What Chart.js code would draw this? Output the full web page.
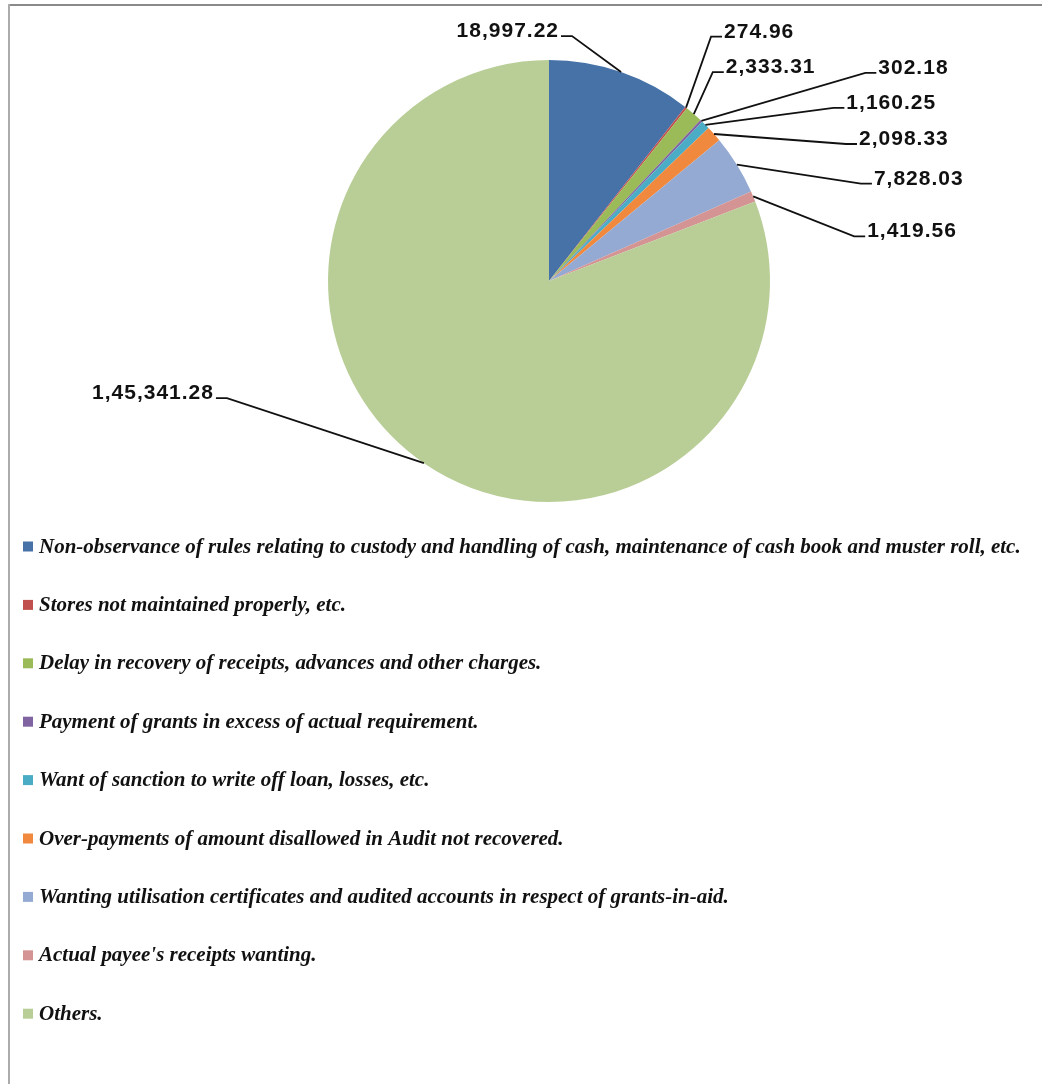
<!DOCTYPE html>
<html><head><meta charset="utf-8">
<script src="https://cdn.jsdelivr.net/npm/chart.js@4.4.0/dist/chart.umd.min.js"></script>
<style>
html,body{margin:0;padding:0;background:#fff;}
#wrap{position:relative;width:1042px;height:1084px;overflow:hidden;}
canvas{position:absolute;left:0;top:0;}
#frameTop{position:absolute;left:8px;top:4px;right:0;height:2px;background:#8a8a8a;}
#frameLeft{position:absolute;left:8px;top:4px;bottom:0;width:2px;background:#ababab;}
</style></head><body>
<div id="wrap"><canvas id="c" width="1042" height="1084"></canvas><div id="frameTop"></div><div id="frameLeft"></div></div>
<script>
const categories = [
  "Non-observance of rules relating to custody and handling of cash, maintenance of cash book and muster roll, etc.",
  "Stores not maintained properly, etc.",
  "Delay in recovery of receipts, advances and other charges.",
  "Payment of grants in excess of actual requirement.",
  "Want of sanction to write off loan, losses, etc.",
  "Over-payments of amount disallowed in Audit not recovered.",
  "Wanting utilisation certificates and audited accounts in respect of grants-in-aid.",
  "Actual payee's receipts wanting.",
  "Others."
];
const amounts = [18997.22, 274.96, 2333.31, 302.18, 1160.25, 2098.33, 7828.03, 1419.56, 145341.28];
const sliceColors = ['#4672A8','#C0504D','#9BBB59','#8064A2','#4BACC6','#F0893E','#95AAD3','#D49493','#B9CE97'];
// leader elbow offsets (px) from each slice's outer-arc midpoint; sign of dx gives label side
const labelElbowOffsets = [[-49,-36],[25,-71],[19,-42],[164,-48],[128,-17],[132,10],[124,19],[101,40],[-197,-65]];

function fmtIN(v){
  const parts = v.toFixed(2).split('.');
  const i = parts[0];
  let last3 = i.slice(-3), rest = i.slice(0,-3);
  if (rest) rest = rest.replace(/\B(?=(\d{2})+(?!\d))/g, ',') + ',';
  return rest + last3 + '.' + parts[1];
}

const leaderLabels = {
  id:'leaderLabels',
  afterDatasetsDraw(chart){
    const ctx = chart.ctx;
    const meta = chart.getDatasetMeta(0);
    ctx.save();
    ctx.strokeStyle = '#111';
    ctx.lineWidth = 1.8;
    ctx.fillStyle = '#111';
    ctx.font = 'bold 21px "Liberation Sans", Arial, sans-serif';
    try { ctx.letterSpacing = '1px'; } catch(e) {}
    ctx.textBaseline = 'alphabetic';
    meta.data.forEach((arc, i) => {
      const p = arc.getProps(['x','y','startAngle','endAngle','outerRadius'], true);
      const mid = (p.startAngle + p.endAngle) / 2;
      const ax = p.x + Math.cos(mid) * p.outerRadius;
      const ay = p.y + Math.sin(mid) * p.outerRadius;
      const [dx, dy] = labelElbowOffsets[i];
      const ex = ax + dx, ey = ay + dy;
      const right = dx >= 0;
      const sx = right ? ex + 11 : ex - 11;
      ctx.beginPath();
      ctx.moveTo(ax, ay);
      ctx.lineTo(ex, ey);
      ctx.lineTo(sx, ey);
      ctx.stroke();
      const txt = fmtIN(amounts[i]);
      ctx.textAlign = right ? 'left' : 'right';
      ctx.fillText(txt, right ? sx + 2 : sx - 2, ey + 1);
    });
    ctx.restore();
  }
};

const rowLegend = {
  id:'rowLegend',
  afterDraw(chart){
    const ctx = chart.ctx;
    const ds = chart.data.datasets[0];
    ctx.save();
    ctx.font = 'italic bold 18px "Liberation Serif", "Times New Roman", serif';
    const w = ctx.measureText(chart.data.labels[0]).width;
    const size = 18 * 982 / w;
    ctx.font = 'italic bold ' + size.toFixed(2) + 'px "Liberation Serif", "Times New Roman", serif';
    ctx.textBaseline = 'alphabetic';
    ctx.textAlign = 'left';
    const top = 546.5, step = 58.4;
    chart.data.labels.forEach((lab, i) => {
      const cy = top + i * step;
      ctx.fillStyle = ds.backgroundColor[i];
      ctx.fillRect(23, cy - 5, 10, 10);
      ctx.fillStyle = '#111';
      ctx.fillText(lab, 39, cy + 6);
    });
    ctx.restore();
  }
};

new Chart(document.getElementById('c'), {
  type:'pie',
  data:{ labels: categories, datasets:[{ data: amounts, backgroundColor: sliceColors, borderWidth:0, hoverOffset:0, offset:0 }] },
  options:{
    responsive:false,
    animation:false,
    layout:{ padding:{ left:328, top:60, right:1042-770, bottom:1084-502 } },
    plugins:{ legend:{ display:false }, tooltip:{ enabled:false } },
    events: []
  },
  plugins:[leaderLabels, rowLegend]
});
</script>
</body></html>
